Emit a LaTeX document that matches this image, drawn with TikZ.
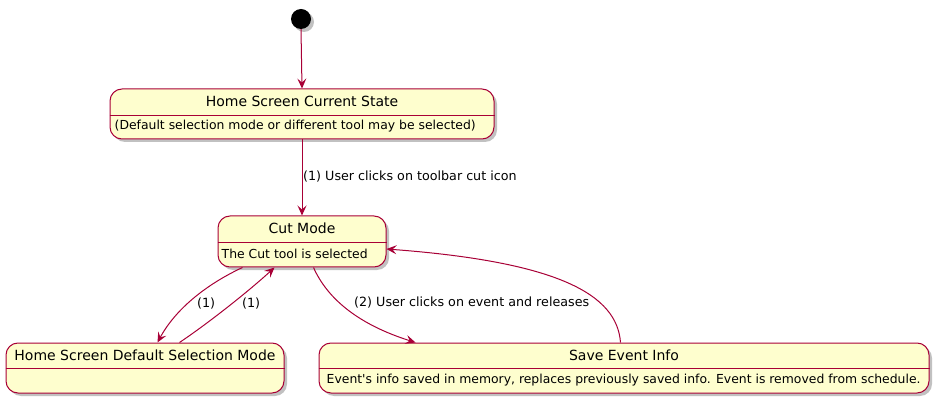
\documentclass[tikz,border=0pt]{standalone}
\usepackage{fontspec}
\setmainfont{DejaVu Sans}[Ligatures=TeXOff]
\usetikzlibrary{arrows.meta,calc,shadows}
\definecolor{pfill}{HTML}{FEFECE}
\definecolor{pline}{HTML}{A80036}
\begin{document}
\begin{tikzpicture}[x=1pt,y=-1pt,
  statebox/.style={draw=pline,fill=pfill,line width=1pt,rounded corners=12pt,inner sep=0pt,
    drop shadow={shadow xshift=3pt,shadow yshift=-3pt,opacity=0.3,fill=black!80}},
  divider/.style={draw=pline,line width=1pt},
  titletext/.style={font=\fontsize{14}{16}\selectfont,inner sep=0pt,anchor=center},
  bodytext/.style={font=\fontsize{12.4}{14}\selectfont,inner sep=0pt,anchor=west},
  edgelabel/.style={font=\fontsize{12.7}{14}\selectfont,inner sep=0pt,anchor=west},
  conn/.style={draw=pline,line width=1pt,-{Stealth[length=10pt,width=9pt,inset=4pt]}}
]
\useasboundingbox (0,0) rectangle (939,403);
% initial state
\node[circle,fill=black,minimum size=20pt,inner sep=0pt,
  drop shadow={shadow xshift=3pt,shadow yshift=-3pt,opacity=0.3,fill=black!80}] (start) at (301,19) {};
% states
\node[statebox,minimum width=384pt,minimum height=50pt] (hscs) at (302,114) {};
\node[statebox,minimum width=168pt,minimum height=51pt] (cut) at (302,241.5) {};
\node[statebox,minimum width=278pt,minimum height=50pt] (hsdsm) at (145,368) {};
\node[statebox,minimum width=610pt,minimum height=50pt] (sei) at (624,368) {};
% dividers
\draw[divider] ($(hscs.north west)+(0,27)$) -- ($(hscs.north east)+(0,27)$);
\draw[divider] ($(cut.north west)+(0,27)$) -- ($(cut.north east)+(0,27)$);
\draw[divider] ($(hsdsm.north west)+(0,26)$) -- ($(hsdsm.north east)+(0,26)$);
\draw[divider] ($(sei.north west)+(0,26)$) -- ($(sei.north east)+(0,26)$);
% titles
\node[titletext] (hscsT) at ($(hscs.north)+(0,13)$) {Home Screen Current State};
\node[titletext] (cutT) at ($(cut.north)+(0,13)$) {Cut Mode};
\node[titletext] (hsdsmT) at ($(hsdsm.north)+(0,13)$) {Home Screen Default Selection Mode};
\node[titletext] (seiT) at ($(sei.north)+(0,13)$) {Save Event Info};
% bodies
\node[bodytext] (hscsB) at ($(hscs.north west)+(5,38)$) {(Default selection mode or different tool may be selected)};
\node[bodytext] (cutB) at ($(cut.north west)+(4,38)$) {The Cut tool is selected};
\node[bodytext] (seiB) at ($(sei.north west)+(8,38)$) {Event's info saved in memory, replaces previously saved info. Event is removed from schedule.};
% connectors
\draw[conn] (start.south) -- (hscs.north);
\draw[conn] (hscs.south) -- (cut.north);
\node[edgelabel] (l1) at (303,177) {(1) User clicks on toolbar cut icon};
\draw[conn] ($(cut.south west)+(25,0)$) .. controls (205,285) and (175,310) .. ($(hsdsm.north west)+(152,0)$);
\node[edgelabel] (l2) at (197,304) {(1)};
\draw[conn] ($(hsdsm.north west)+(174,0)$) .. controls (210,322) and (250,290) .. ($(cut.south west)+(57,0)$);
\node[edgelabel] (l3) at (242,304) {(1)};
\draw[conn] ($(cut.south west)+(96,0)$) .. controls (328,300) and (360,325) .. ($(sei.north west)+(97,0)$);
\node[edgelabel] (l4) at (354,303) {(2) User clicks on event and releases};
\draw[conn] ($(sei.north west)+(302,0)$) .. controls (617,295) and (560,262) .. ($(cut.east)+(0,7.5)$);
\end{tikzpicture}
\end{document}
